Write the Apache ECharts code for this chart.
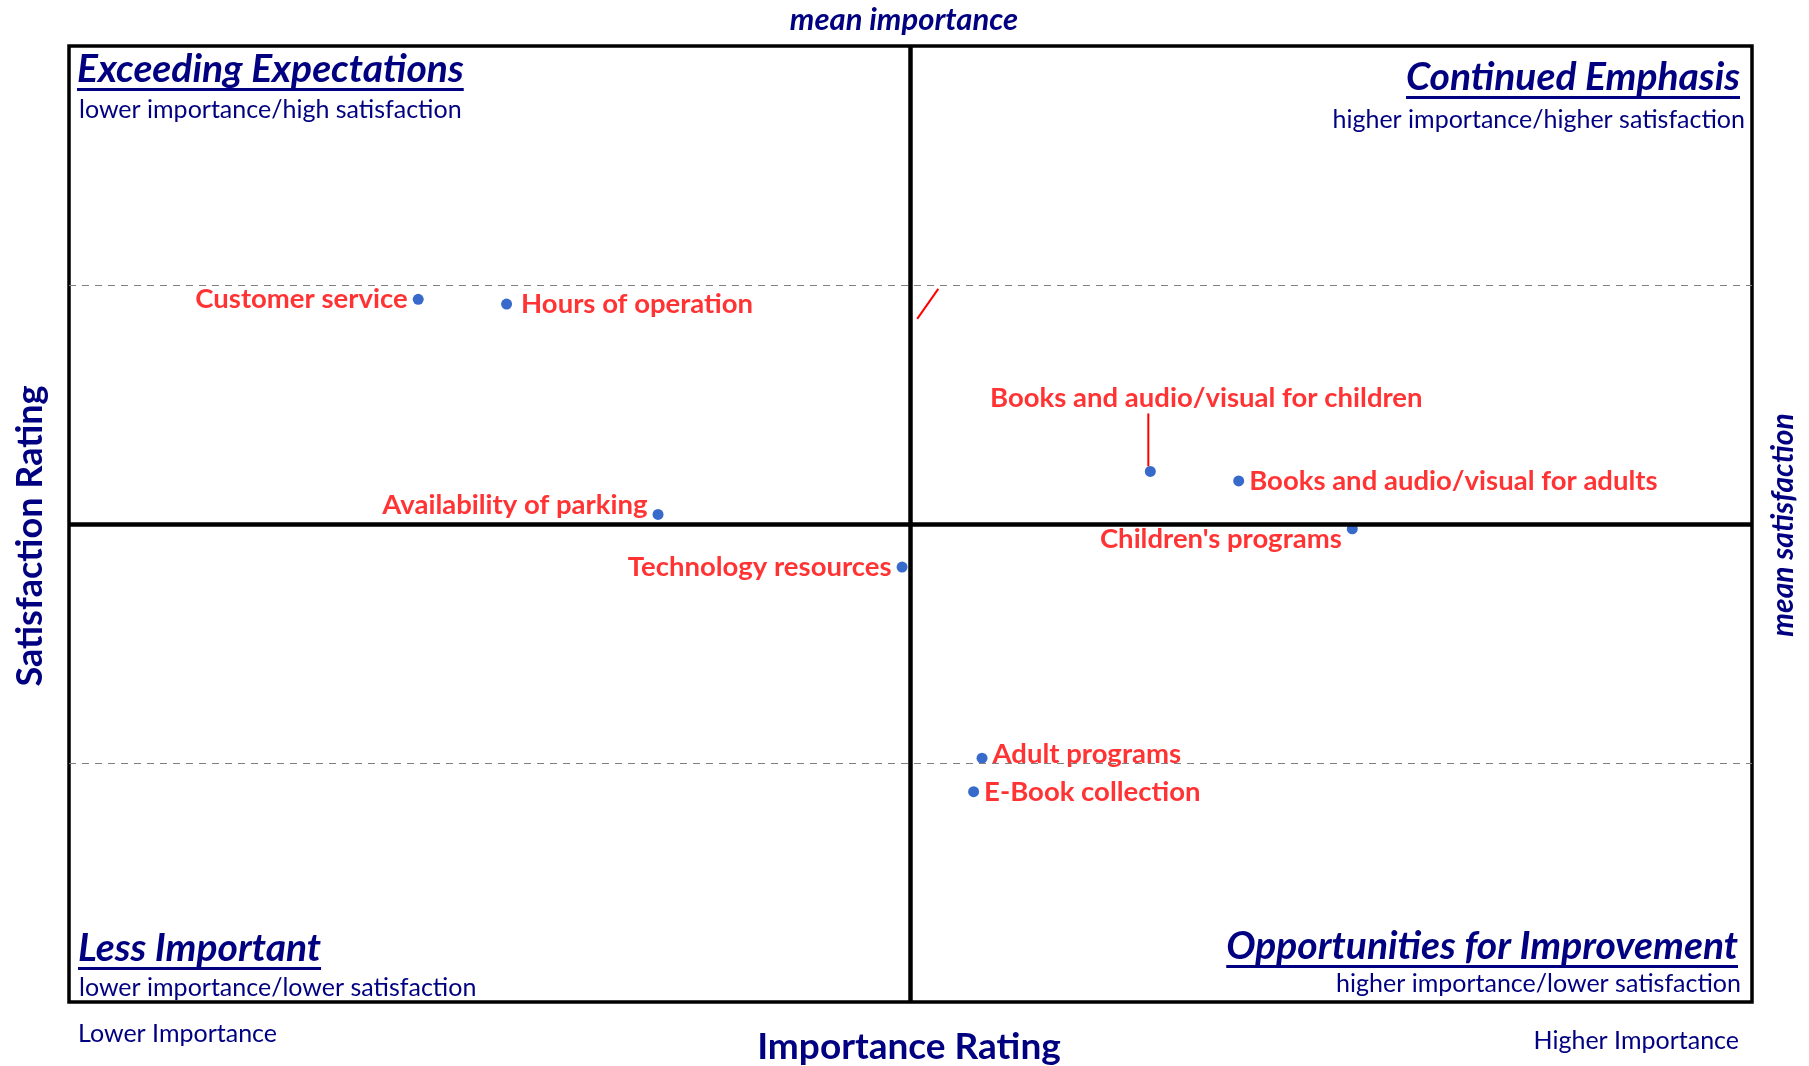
<!DOCTYPE html>
<html>
<head>
<meta charset="utf-8">
<script src="https://cdn.jsdelivr.net/npm/echarts@6/dist/echarts.min.js"></script>
<style>
html, body { margin: 0; padding: 0; background: #fff; }
#main { width: 1809px; height: 1066px; }
</style>
</head>
<body>
<div id="main"></div>
<script>
// services rated by importance (x) and satisfaction (y)
var services = ['Customer service', 'Hours of operation', 'Availability of parking',
    'Technology resources', 'Books and audio/visual for children',
    'Books and audio/visual for adults', "Children's programs",
    'Adult programs', 'E-Book collection'];
var importance = [3.415, 3.52, 3.70, 3.99, 4.285, 4.39, 4.525, 4.085, 4.075];
var satisfaction = [4.47, 4.46, 4.02, 3.91, 4.11, 4.09, 3.99, 3.51, 3.44];

var meanImportance = 4.0;
var meanSatisfaction = 4.0;
var satisfactionBands = [3.5, 4.5];
// leftover leader line near the top of the middle axis
var strayLeaderX = [4.008, 4.033];
var strayLeaderY = [4.429, 4.492];

var navy = '#000080';
var red = '#ff0000';
var fontName = 'Lato';

// label side and nudge (px) for each point
var labelPlace = {
    'Customer service': ['left', 0, 0],
    'Hours of operation': ['right', 4, 0],
    'Availability of parking': ['left', 0, -9],
    'Technology resources': ['left', 0, 0],
    'Books and audio/visual for children': ['top', 56, -49],
    'Books and audio/visual for adults': ['right', 0, 0],
    "Children's programs": ['left', 0, 10],
    'Adult programs': ['right', 0, -4],
    'E-Book collection': ['right', 0, 0]
};

var points = services.map(function (name, i) {
    return {
        name: name,
        value: [importance[i], satisfaction[i]],
        label: { position: labelPlace[name][0] }
    };
});

var dom = document.getElementById('main');
var myChart = echarts.init(dom);

var measure = document.createElement('canvas').getContext('2d');
function textWidth(txt, font) {
    measure.font = font;
    return measure.measureText(txt).width;
}

// quadrant heading with underline
function heading(txt, x, y, align) {
    var font = 'italic bold 39px ' + fontName;
    var w = textWidth(txt, font);
    var left = align === 'right' ? x - w : x;
    return [
        { type: 'text', x: x, y: y, style: { text: txt, font: font, fill: navy, textAlign: align, textVerticalAlign: 'middle' } },
        { type: 'rect', shape: { x: left, y: y + 19, width: w, height: 3 }, style: { fill: navy } }
    ];
}
function note(txt, x, y, align) {
    return { type: 'text', x: x, y: y, style: { text: txt, font: '25px ' + fontName, fill: navy, textAlign: align, textVerticalAlign: 'middle' } };
}

var graphics = [].concat(
    heading('Exceeding Expectations', 77, 69, 'left'),
    [note('lower importance/high satisfaction', 79, 110, 'left')],
    heading('Continued Emphasis', 1740, 77, 'right'),
    [note('higher importance/higher satisfaction', 1745, 120, 'right')],
    heading('Less Important', 78, 948, 'left'),
    [note('lower importance/lower satisfaction', 79, 988, 'left')],
    heading('Opportunities for Improvement', 1738, 946, 'right'),
    [note('higher importance/lower satisfaction', 1741, 984, 'right')],
    [
        note('Lower Importance', 78, 1034, 'left'),
        note('Higher Importance', 1739, 1041, 'right'),
        { type: 'text', x: 909, y: 1047, style: { text: 'Importance Rating', font: 'bold 37px ' + fontName, fill: navy, textAlign: 'center', textVerticalAlign: 'middle' } },
        { type: 'text', x: 904, y: 20, style: { text: 'mean importance', font: 'italic bold 31px ' + fontName, fill: navy, textAlign: 'center', textVerticalAlign: 'middle' } },
        { type: 'text', x: 30, y: 536, rotation: Math.PI / 2, style: { text: 'Satisfaction Rating', font: 'bold 36px ' + fontName, fill: navy, textAlign: 'center', textVerticalAlign: 'middle' } },
        { type: 'text', x: 1783, y: 525, rotation: Math.PI / 2, style: { text: 'mean satisfaction', font: 'italic bold 30px ' + fontName, fill: navy, textAlign: 'center', textVerticalAlign: 'middle' } }
    ]
);

var option = {
    backgroundColor: '#fff',
    animation: false,
    grid: {
        show: true,
        left: 69, right: 57, top: 46, bottom: 64,
        borderColor: '#000', borderWidth: 3.5
    },
    xAxis: {
        type: 'value', min: 3, max: 5,
        axisLine: { show: false }, axisTick: { show: false },
        axisLabel: { show: false }, splitLine: { show: false }
    },
    yAxis: {
        type: 'value', min: 3, max: 5,
        axisLine: { show: false }, axisTick: { show: false },
        axisLabel: { show: false }, splitLine: { show: false }
    },
    graphic: graphics,
    series: [
        {
            type: 'line',
            silent: true,
            symbol: 'none',
            data: [],
            markLine: {
                silent: true,
                symbol: 'none',
                label: { show: false },
                data: [
                    { yAxis: satisfactionBands[0], lineStyle: { color: '#7f7f7f', type: [7, 6], width: 1.2 } },
                    { yAxis: satisfactionBands[1], lineStyle: { color: '#7f7f7f', type: [7, 6], width: 1.2 } },
                    { xAxis: meanImportance, lineStyle: { color: '#000', type: 'solid', width: 4.5 } },
                    { yAxis: meanSatisfaction, lineStyle: { color: '#000', type: 'solid', width: 4.5 } }
                ]
            }
        },
        {
            type: 'line',
            silent: true,
            symbol: 'none',
            lineStyle: { color: red, width: 2 },
            data: strayLeaderX.map(function (x, i) { return [x, strayLeaderY[i]]; })
        },
        {
            type: 'scatter',
            symbolSize: 11,
            itemStyle: { color: '#0645bf' },
            label: {
                show: true,
                formatter: '{b}',
                color: red,
                fontWeight: 'bold',
                fontFamily: fontName,
                fontSize: 27.5,
                distance: 5
            },
            labelLayout: function (params) {
                var p = labelPlace[services[params.dataIndex]];
                return { dx: p[1], dy: p[2] };
            },
            data: points
        }
    ]
};

myChart.setOption(option);

// vertical leader from the children's books point up to its label
var kidsIdx = 4;
var pt = myChart.convertToPixel({ gridIndex: 0 }, [importance[kidsIdx], satisfaction[kidsIdx]]);
myChart.setOption({
    graphic: graphics.concat([{
        type: 'line',
        shape: { x1: pt[0] - 2, y1: pt[1] - 5, x2: pt[0] - 2, y2: pt[1] - 58 },
        style: { stroke: red, lineWidth: 2 }
    }])
});
</script>
</body>
</html>
